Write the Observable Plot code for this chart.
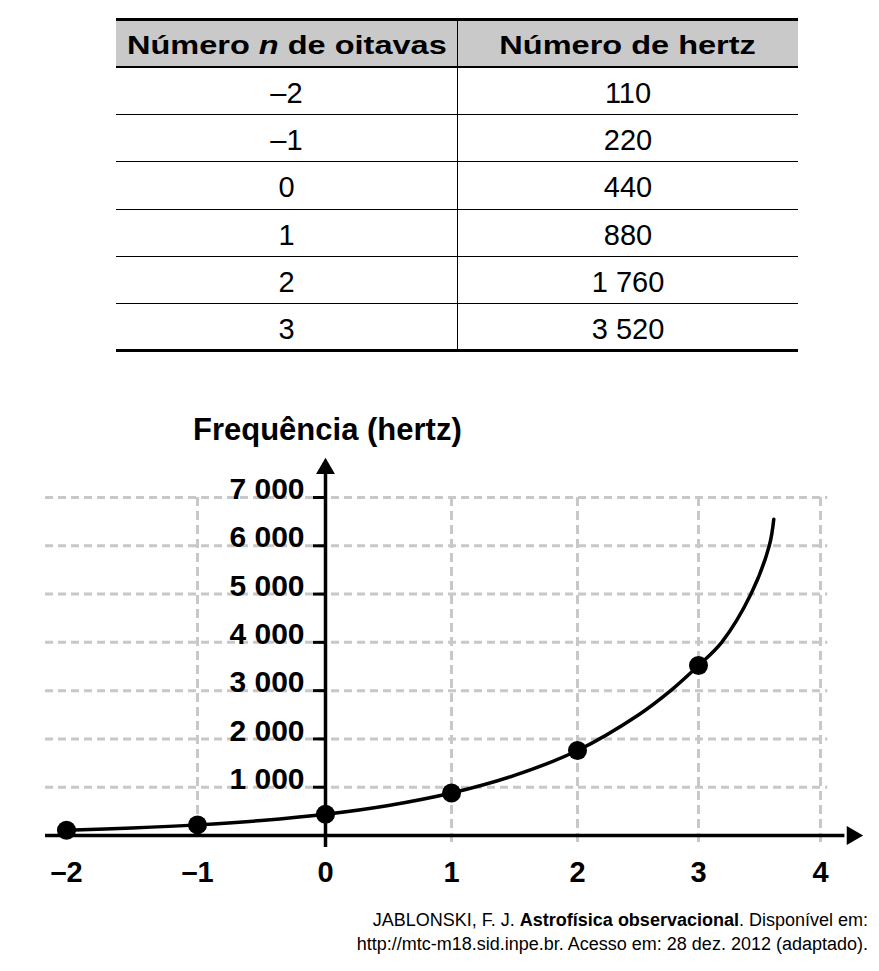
<!DOCTYPE html>
<html>
<head>
<meta charset="utf-8">
<script src="https://cdn.jsdelivr.net/npm/d3@7"></script>
<script src="https://cdn.jsdelivr.net/npm/@observablehq/plot@0.6"></script>
<style>
  html, body { margin: 0; padding: 0; background: #fff; }
  #wrap { position: relative; width: 879px; height: 971px; overflow: hidden;
          font-family: "Liberation Sans", Arial, Helvetica, sans-serif; color: #000; }
  #tbl { position: absolute; left: 116px; top: 18px; width: 682px;
         border-collapse: separate; border-spacing: 0; table-layout: fixed; }
  #tbl th, #tbl td { box-sizing: border-box; padding: 0; text-align: center; vertical-align: middle; }
  #tbl th { height: 50px; background: #c9c9c9; border-top: 3px solid #000; border-bottom: 2px solid #000;
            font-weight: bold; font-size: 26px; padding-top: 4px; }
  #tbl th span { display: inline-block; transform: scaleX(1.25); white-space: nowrap; }
  #tbl td { height: 47.2px; border-bottom: 1.5px solid #000; font-size: 29px; padding-top: 5px; }
  #tbl tr:last-child td { height: 48.5px; border-bottom: 3px solid #000; }
  #tbl .c2 { border-left: 1.5px solid #000; }
  #title { position: absolute; left: 193px; top: 415px; font-size: 31px; line-height: 30px; font-weight: bold; white-space: nowrap; }
  #chart { position: absolute; left: 0; top: 390px; }
  #caption { position: absolute; right: 11px; top: 908px; font-size: 18px; line-height: 24px; text-align: right; white-space: nowrap; }
</style>
</head>
<body>
<div id="wrap">
  <table id="tbl"><thead></thead><tbody></tbody></table>
  <div id="title"></div>
  <div id="chart"></div>
  <div id="caption"></div>
</div>
<script>
// ---- Data ----
const headerCol1 = ["Número ", "n", " de oitavas"];
const headerCol2 = "Número de hertz";
const octaves = [-2, -1, 0, 1, 2, 3];
const hertz = [110, 220, 440, 880, 1760, 3520];
const octaveLabels = ["–2", "–1", "0", "1", "2", "3"];
const hertzLabels = ["110", "220", "440", "880", "1 760", "3 520"];

const xTicks = [-2, -1, 0, 1, 2, 3, 4];
const xTickLabels = ["–2", "–1", "0", "1", "2", "3", "4"];
const yTicks = [1000, 2000, 3000, 4000, 5000, 6000, 7000];
const yTickLabels = ["1 000", "2 000", "3 000", "4 000", "5 000", "6 000", "7 000"];
const xGrid = [-1, 1, 2, 3, 4];

// drawn curve
const curveN  = [-2, -1.5, -1, -0.5, 0, 0.5, 1, 1.5, 2, 2.5, 2.77, 3, 3.19, 3.43, 3.58, 3.617];
const curveHz = [110, 156, 220, 311, 440, 622, 880, 1245, 1760, 2490, 3000, 3520, 4000, 5000, 6000, 6550];

const titleText = "Frequência (hertz)";
const captionLine1 = ["JABLONSKI, F. J. ", "Astrofísica observacional", ". Disponível em:"];
const captionLine2 = "http://mtc-m18.sid.inpe.br. Acesso em: 28 dez. 2012 (adaptado).";

// ---- Table ----
const thead = document.querySelector("#tbl thead");
const trh = document.createElement("tr");
const th1 = document.createElement("th");
th1.innerHTML = `<span>${headerCol1[0]}<i>${headerCol1[1]}</i>${headerCol1[2]}</span>`;
const th2 = document.createElement("th");
th2.className = "c2";
th2.innerHTML = `<span>${headerCol2}</span>`;
trh.append(th1, th2);
thead.append(trh);
const tbody = document.querySelector("#tbl tbody");
octaveLabels.forEach((o, i) => {
  const tr = document.createElement("tr");
  const a = document.createElement("td"); a.textContent = o;
  const b = document.createElement("td"); b.className = "c2"; b.textContent = hertzLabels[i];
  tr.append(a, b);
  tbody.append(tr);
});

document.getElementById("title").textContent = titleText;
document.getElementById("caption").innerHTML =
  `${captionLine1[0]}<b>${captionLine1[1]}</b>${captionLine1[2]}<br>${captionLine2}`;

// ---- Chart ----
const points = octaves.map((n, i) => ({n, hz: hertz[i]}));
const curve = curveN.map((n, i) => ({n, hz: curveHz[i]}));
const grid = "#c8c8c8";

const chart = Plot.plot({
  width: 879,
  height: 510,
  marginTop: 107,
  marginBottom: 65,
  marginLeft: 325,
  marginRight: 20,
  x: {type: "linear", domain: xTicks, range: [66, 197, 325, 451, 577, 698, 820], label: null},
  y: {type: "linear", domain: [0, 7000], label: null},
  style: {fontFamily: '"Liberation Sans", Arial, Helvetica, sans-serif', color: "#000", background: "transparent", overflow: "visible"},
  marks: [
    Plot.ruleY(yTicks, {x1: -2.16, x2: 4.06, stroke: grid, strokeWidth: 3, strokeDasharray: "8,5"}),
    Plot.ruleX(xGrid, {y1: 7000, y2: d => d < 0 ? 0 : -250, stroke: grid, strokeWidth: 3, strokeDasharray: "9,5"}),
    Plot.ruleY([0], {x1: -2.16, x2: 4.2, stroke: "#000", strokeWidth: 3.5}),
    Plot.ruleX([0], {y1: -250, y2: 7550, stroke: "#000", strokeWidth: 3.5}),
    Plot.dot([0], {x: 4.26, y: 0, symbol: "triangle", rotate: 90, r: 7, fill: "#000", stroke: null}),
    Plot.dot([0], {x: 0, y: 7600, symbol: "triangle", r: 7, fill: "#000", stroke: null}),
    Plot.axisY(yTicks, {anchor: "left", tickSize: 12, strokeWidth: 3, stroke: "#000", tickFormat: () => "", label: null}),
    Plot.axisY(yTicks, {anchor: "left", tickSize: 0, tickPadding: 21, dy: -8, fontSize: 30, fontWeight: "bold",
      tickFormat: d => yTickLabels[yTicks.indexOf(d)], label: null}),
    Plot.axisX(xTicks, {anchor: "bottom", tickSize: 0, tickPadding: 26, fontSize: 29, fontWeight: "bold",
      tickFormat: d => xTickLabels[xTicks.indexOf(d)], label: null}),
    Plot.line(curve, {x: "n", y: "hz", curve: "catmull-rom", stroke: "#000", strokeWidth: 3.5}),
    Plot.dot(points, {x: "n", y: "hz", r: 9.5, fill: "#000", stroke: null})
  ]
});
document.getElementById("chart").append(chart);
</script>
</body>
</html>
